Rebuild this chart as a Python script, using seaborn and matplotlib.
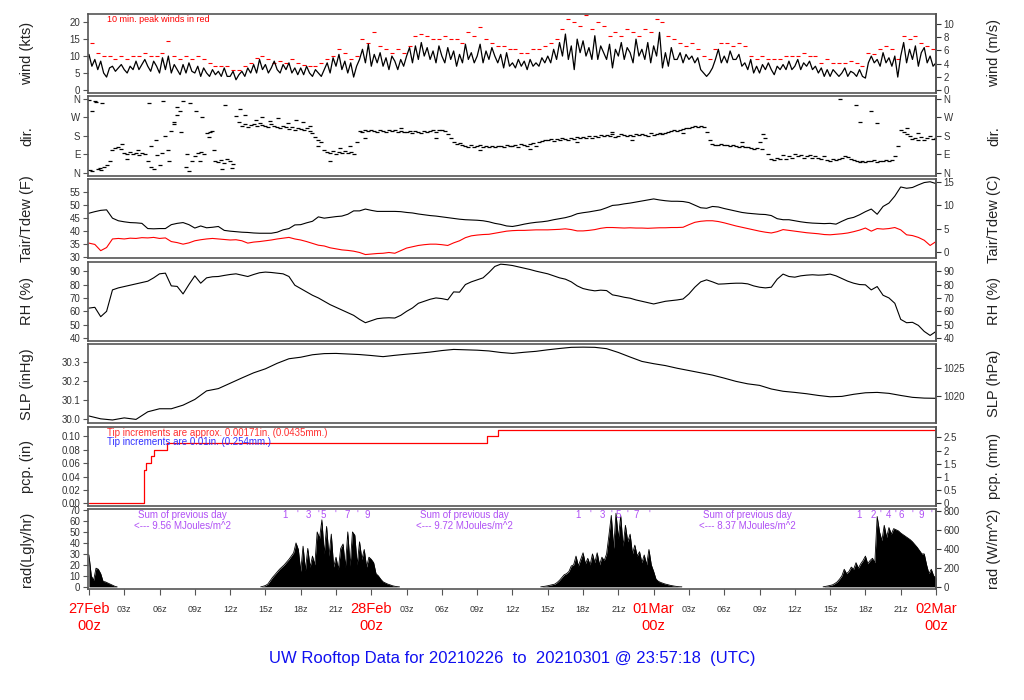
import numpy as np
import matplotlib
matplotlib.use("Agg")
import matplotlib.pyplot as plt
import matplotlib.transforms as mtransforms
import seaborn as sns

sns.set_style("ticks")
plt.rcParams['font.family'] = ['Liberation Sans', 'DejaVu Sans']

# ---------------- data (hours since 27Feb 00z) ----------------
# wind speed (kts), every 15 min
wind_kts = [
    10.5, 7.0, 9.0, 6.0,  8.5, 5.0, 3.8, 6.5,  7.0, 5.5, 6.5, 7.5,  6.0, 5.0, 7.0, 6.0,
    8.5, 6.0, 7.5, 9.0,  7.0, 5.5, 8.5, 7.0,  5.0, 9.5, 6.0, 10.0,  5.0, 7.5, 6.0, 4.5,
    7.5, 5.0, 8.0, 5.5,  5.0, 7.0, 4.0, 6.5,  5.0, 4.0, 6.0, 4.5,  5.5, 4.0, 6.5, 4.0,
    4.0, 5.5, 3.0, 4.5,  5.5, 4.0, 6.5, 5.0,  7.5, 5.0, 9.0, 6.0,  7.5, 5.0, 6.5, 8.5,
    6.0, 5.0, 7.5, 6.0,  8.0, 5.0, 6.5, 4.5,  6.5, 4.5, 7.0, 5.0,  4.0, 6.0, 5.0, 4.0,
    6.0, 8.0, 5.0, 9.5,  7.0, 10.5, 6.0, 8.5,  5.0, 8.0, 3.8, 7.0,  9.0, 12.0, 8.0, 13.5,
    7.0, 10.5, 8.0, 11.0,  7.0, 9.5, 6.0, 10.0,  8.5, 6.0, 9.0, 7.0,  10.0, 12.5, 8.0, 13.0,
    9.0, 14.0, 10.0, 12.5,  9.0, 11.5, 8.0, 13.0,  10.0, 8.0, 12.5, 9.0,  11.5, 7.0, 10.5, 8.0,
    13.5, 9.0, 11.0, 8.0,  10.0, 13.5, 8.0, 11.5,  9.0, 12.5, 10.0, 8.0,  10.5, 6.5, 11.0, 7.0,
    8.0, 6.5, 9.0, 7.0,  8.5, 6.0, 9.0, 7.0,  8.0, 7.0, 9.5, 8.0,  10.0, 8.0, 12.0, 9.0,
    14.0, 10.0, 16.5, 9.0,  13.0, 6.0, 15.0, 11.0,  14.5, 10.0, 12.5, 9.0,  16.0, 9.0, 13.0, 11.0,
    9.0, 13.5, 6.5, 12.0,  10.0, 14.0, 9.0, 12.5,  11.0, 8.0, 15.0, 10.0,  12.0, 9.0, 14.0, 8.0,
    13.0, 10.0, 17.0, 6.5,  11.0, 7.0, 12.5, 9.0,  9.0, 11.0, 8.0, 10.5,  9.0, 10.0, 8.0, 9.5,
    6.0, 5.0, 4.0, 5.0,  6.5, 9.0, 12.0, 8.0,  10.0, 8.0, 11.5, 9.0,  9.0, 10.5, 7.0, 8.0,
    6.0, 9.0, 5.0, 7.0,  5.0, 7.5, 6.0, 8.0,  6.0, 4.5, 7.0, 6.0,  7.5, 6.0, 8.5, 6.0,
    7.0, 9.0, 6.0, 8.0,  7.0, 8.5, 6.0, 7.0,  5.0, 6.5, 4.0, 6.0,  4.0, 6.0, 5.0, 4.0,
    5.0, 6.5, 4.0, 5.5,  5.0, 4.0, 6.0, 4.0,  3.5, 8.0, 10.0, 8.0,  9.0, 7.0, 11.0, 8.0,
    9.5, 7.0, 10.0, 3.8,  10.0, 14.0, 8.0, 12.0,  9.0, 13.0, 7.0, 11.0,  12.5, 8.0, 10.0, 7.0,
    8.0]
# 10-min peak winds (kts), every 30 min
gust_kts = [
    14, 11, 10, 10, 9, 10, 9, 10, 10, 11, 10, 10, 11, 14.5, 10, 9, 10, 9, 10, 9,
    8, 7, 7, 7, 6, 6, 7, 8, 9.5, 10, 9, 8, 8.5, 8, 9, 8, 7.5, 7, 7, 8,
    9, 10, 12, 11, 9, 10, 15, 14, 17, 13, 12, 11, 12, 11, 13, 16, 16.5, 16, 15, 15,
    16, 15, 15, 14, 17, 16, 18.5, 15, 14, 13, 13, 12, 12, 11, 11, 12, 12, 13, 14, 15,
    18, 21, 20, 19, 22, 18, 20, 19, 16, 17, 16, 18, 17, 16, 18, 17, 21, 20, 16, 15,
    14, 13, 14, 12, 10, 9, 12, 14, 14, 13, 14, 13, 10, 9, 10, 9, 9, 9, 10, 10,
    10, 11, 10, 10, 8, 9, 8, 8, 8, 8.5, 8, 7, 11, 10.5, 12, 13, 12, 9, 16, 15,
    16, 14, 13, 12]
# wind direction (deg), every 15 min
wind_dir = [
    355, 10, 350, 20,  15, 30, 40, 60,  110, 120, 125, 115,  95, 90, 100, 92,
    95, 88, 98, 90,  60, 130, 20, 85,  40, 95, 180, 110,  205, 250, 280, 300,
    350, 30, 10, 60,  80, 95, 100, 90,  195, 200, 205, 60,  55, 65, 50, 70,
    60, 45, 275, 250,  230, 240, 225, 235,  240, 230, 245, 235,  230, 225, 240, 230,
    225, 220, 230, 225,  215, 225, 210, 220,  215, 210, 220, 205,  195, 175, 160, 150,
    110, 100, 95, 105,  90, 100, 95, 105,  95, 100, 90, 150,  205, 200, 210, 205,
    210, 205, 200, 208,  205, 200, 210, 205,  210, 200, 205, 198,  200, 205, 195, 205,
    200, 195, 205, 200,  205, 210, 200, 208,  210, 205, 190, 170,  150, 140, 145, 135,
    130, 125, 135, 128,  130, 135, 125, 130,  125, 130, 128, 132,  130, 125, 135, 130,
    130, 135, 128, 140,  135, 130, 140, 145,  130, 150, 155, 160,  160, 165, 155, 165,
    160, 170, 165, 160,  170, 165, 175, 168,  175, 170, 180, 172,  180, 175, 185, 178,
    185, 180, 190, 175,  180, 190, 185, 178,  185, 180, 190, 185,  190, 185, 180, 195,
    185, 190, 195, 188,  195, 200, 205, 210,  205, 210, 215, 220,  220, 225, 228, 225,
    230, 225, 200, 160,  140, 138, 135, 140,  135, 138, 132, 135,  130, 128, 132, 125,
    125, 120, 118, 122,  150, 115, 170, 90,  70, 65, 75, 70,  85, 70, 80, 72,
    90, 80, 85, 75,  80, 85, 75, 80,  75, 70, 80, 65,  60, 70, 65, 68,
    75, 80, 78, 70,  65, 60, 55, 60,  55, 60, 58, 62,  55, 60, 58, 65,
    60, 65, 80, 130,  210, 200, 190, 180,  165, 170, 160, 175,  160, 170, 180, 165,
    170]
dir_extra_t = [0.1, 0.6, 0.9, 1.1, 0.3, 2.8, 3.2, 4.2, 5.1, 5.3, 5.7, 6.3, 6.8, 7.2, 7.5, 7.8,
               8.3, 8.6, 9.1, 9.4, 9.6, 10.2, 10.6, 11.3, 11.6, 12.2, 12.8, 13.3, 14.2, 14.7,
               15.4, 16.1, 16.9, 17.6, 18.2, 18.8, 19.5, 20.5, 21.3, 22.2, 23.5, 26.5, 29.5,
               33.2, 37.5, 41.5, 44.5, 46.2, 50.5, 55.5, 57.3, 63.8, 65.2, 65.5, 66.5, 67.0,
               69.5, 70.5]
dir_extra_v = [15, 345, 25, 340, 300, 140, 70, 110, 340, 30, 160, 350, 60, 240, 320, 200,
               90, 340, 300, 60, 270, 175, 110, 20, 330, 25, 310, 280, 260, 270,
               255, 265, 245, 260, 250, 230, 130, 60, 120, 130, 170, 220, 170,
               110, 115, 150, 200, 160, 195, 150, 190, 360, 330, 250, 300, 245,
               220, 195]
# air temperature / dew point (F), RH (%), every 30 min
tair_f = [
    46.9, 47.5, 48.0, 48.2, 45.0, 44.0, 43.6, 43.3, 43.2, 43.0,
    41.0, 40.9, 41.0, 41.0, 42.5, 43.0, 43.3, 42.5, 41.2, 42.0,
    41.3, 41.5, 41.8, 40.3, 40.0, 39.8, 39.6, 39.5, 39.3, 39.2,
    39.2, 39.2, 39.6, 40.5, 41.0, 42.4, 42.5, 43.2, 43.8, 45.5,
    45.0, 45.3, 45.6, 45.8, 46.5, 47.8, 47.8, 48.5, 48.0, 47.6,
    47.6, 47.6, 47.6, 47.5, 47.2, 47.0, 46.6, 46.3, 46.0, 45.8,
    45.5, 45.2, 44.9, 44.6, 44.4, 44.3, 44.2, 44.0, 43.6, 43.0,
    42.6, 42.0, 41.8, 42.2, 42.7, 43.1, 43.4, 43.6, 43.9, 44.4,
    44.8, 45.2, 45.8, 46.7, 47.1, 47.4, 47.8, 48.2, 49.0, 49.9,
    50.1, 50.5, 50.8, 51.2, 51.6, 52.0, 52.4, 52.0, 51.7, 51.5,
    51.5, 51.4, 51.0, 50.0, 49.0, 48.8, 49.5, 49.3, 48.7, 48.2,
    47.7, 47.2, 46.9, 46.7, 46.5, 46.4, 46.0, 44.8, 44.4, 44.4,
    44.0, 43.6, 43.3, 43.1, 43.0, 42.9, 43.0, 42.7, 43.8, 44.8,
    45.3, 46.3, 47.5, 48.5, 46.5, 49.5, 50.8, 53.5, 57.0, 56.5,
    56.8, 57.8, 58.7, 59.0, 58.3]
tdew_f = [
    35.4, 34.9, 32.5, 33.7, 37.0, 37.2, 37.0, 37.3, 37.2, 37.5,
    37.4, 37.6, 37.2, 37.4, 36.0, 35.6, 35.0, 35.5, 36.3, 36.7,
    37.0, 37.2, 37.0, 36.8, 36.6, 36.7, 36.3, 35.4, 35.8, 36.0,
    36.3, 36.6, 37.0, 37.3, 37.6, 37.0, 36.6, 36.0, 35.3, 34.6,
    34.3, 33.6, 33.2, 32.8, 32.6, 32.3, 31.8, 31.0, 31.2, 31.4,
    31.5, 31.8, 31.5, 32.5, 33.5, 34.0, 34.5, 34.8, 35.0, 35.0,
    34.8, 34.5, 35.5, 36.3, 37.5, 38.2, 38.5, 38.7, 38.8, 39.2,
    39.6, 40.0, 40.2, 40.3, 40.3, 40.4, 40.5, 40.5, 40.5, 40.6,
    40.7, 40.9, 40.6, 40.1, 40.1, 40.3, 40.6, 41.1, 41.4, 41.4,
    41.3, 41.2, 41.3, 41.2, 41.2, 41.1, 41.2, 41.3, 41.3, 41.4,
    41.4, 41.5, 42.5, 43.4, 43.8, 44.0, 44.0, 43.7, 43.2, 42.6,
    42.0, 41.5, 41.0, 40.5, 40.0, 39.6, 39.3, 39.8, 40.6, 40.3,
    40.0, 39.7, 39.4, 39.2, 39.0, 38.7, 38.6, 38.8, 39.0, 39.3,
    39.8, 40.4, 41.2, 40.0, 41.0, 40.8, 41.0, 41.4, 40.5, 38.6,
    38.3, 37.6, 36.5, 34.5, 36.0]
rh_pct = [
    62.4, 63.0, 56.0, 60.0, 76.0, 77.5, 78.5, 79.5, 80.5, 81.5,
    82.5, 85.0, 88.0, 88.5, 79.0, 78.6, 73.0, 80.0, 86.5, 81.0,
    85.0, 85.8, 86.0, 86.8, 87.5, 88.0, 87.0, 86.0, 87.5, 88.8,
    89.3, 89.0, 88.5, 88.0, 86.0, 79.5, 77.0, 74.5, 72.0, 70.0,
    67.5, 65.0, 63.0, 61.0, 59.0, 57.0, 54.0, 51.5, 53.0, 54.5,
    55.0, 55.2, 55.0, 57.0, 60.0, 62.5, 66.0, 67.5, 69.0, 70.0,
    69.5, 68.6, 74.5, 74.3, 80.0, 82.0, 83.5, 85.0, 89.0, 93.5,
    95.2, 94.8, 94.2, 93.2, 92.2, 91.2, 90.0, 89.0, 88.0, 86.5,
    85.0, 84.0, 82.0, 79.0, 77.0, 76.0, 75.3, 75.8, 75.5, 72.3,
    71.5, 70.5, 69.8, 68.5, 67.5, 66.5, 65.5, 66.5, 67.5, 68.0,
    68.5, 69.2, 73.0, 78.0, 82.0, 83.5, 82.0, 80.3, 80.5, 80.8,
    81.0, 81.0, 80.5, 79.0, 78.0, 77.5, 78.0, 84.0, 87.8, 86.0,
    85.5, 86.5, 87.0, 87.3, 87.0, 87.2, 87.8, 86.5, 84.5, 82.5,
    81.0, 80.0, 79.8, 76.0, 78.5, 72.0, 70.0, 66.0, 54.0, 51.5,
    51.8, 49.5, 45.0, 42.0, 45.0]
# sea level pressure (inHg), hourly
slp_inhg = [
    30.018, 30.003, 29.997, 30.008, 30.000, 30.040, 30.056, 30.056, 30.075, 30.105,
    30.150, 30.162, 30.190, 30.218, 30.245, 30.266, 30.295, 30.319, 30.327, 30.340,
    30.346, 30.347, 30.344, 30.341, 30.336, 30.330, 30.337, 30.343, 30.348, 30.354,
    30.362, 30.368, 30.366, 30.364, 30.360, 30.352, 30.347, 30.353, 30.358, 30.366,
    30.373, 30.379, 30.380, 30.379, 30.372, 30.352, 30.328, 30.305, 30.293, 30.283,
    30.269, 30.257, 30.245, 30.233, 30.217, 30.200, 30.187, 30.179, 30.160, 30.148,
    30.142, 30.135, 30.126, 30.119, 30.121, 30.132, 30.140, 30.142, 30.137, 30.126,
    30.116, 30.112, 30.111]
# accumulated precipitation (in) at tip times
pcp_t = [0.0, 4.68, 4.85, 5.27, 5.55, 6.60, 33.86, 34.74, 72.0]
pcp_in = [0.00, 0.05, 0.06, 0.07, 0.08, 0.09, 0.10, 0.11, 0.11]
# solar radiation (Lgly/hr), every 12 min, per daylight period
rad_start = [0.0, 14.6, 38.4, 62.4]
rad_vals = [
    [29, 10, 6, 17, 16, 12, 5, 4.5, 3.5, 2.5, 1.5, 0.5, 0],
    [0, 0.5, 1.2, 2.5, 5.5, 8.5, 11, 13.5, 16, 18, 20, 22.5, 25, 28, 31, 40, 34, 14, 37, 15,
     35, 18, 28, 20, 50, 44, 61, 30, 55, 28, 48, 18, 27, 16, 35, 39, 18, 50, 19, 50,
     47, 20, 41, 25, 34, 18, 27, 25, 22, 12, 10, 7, 4.6, 3.5, 2.5, 1.8, 1.0, 0.5, 0.2, 0],
    [0, 0.3, 0.6, 1.0, 1.5, 2.0, 2.5, 4, 6, 8.5, 11, 12, 14, 19, 20, 28, 19, 25, 31, 21,
     26, 20, 30, 22, 31, 20, 27, 24, 30, 47, 65, 35, 67, 44, 65, 37, 56, 41, 48, 30,
     38, 28, 32, 22, 29, 20, 34, 20, 14, 7, 5, 4, 3.2, 2.5, 2, 1.4, 1.0, 0.6, 0.3, 0.1, 0],
    [0, 0.4, 0.8, 1.3, 1.8, 3, 4.5, 7, 10, 16, 12, 14, 18, 16, 22, 17, 21, 24, 28, 21,
     24, 26, 22, 64, 50, 42, 56, 45, 54, 48, 53, 52, 51, 49, 47.5, 46, 44.5, 43, 41, 38.5,
     36, 33, 30, 30, 20, 12, 16, 10, 8]]
rad_mark_t = [16.66, 17.68, 18.62, 19.47, 19.89, 20.91, 21.93, 22.78, 23.63,
              41.57, 42.59, 43.61, 44.37, 44.97, 45.73, 46.50, 47.60,
              65.45, 66.64, 67.24, 67.92, 68.51, 69.02, 69.96, 70.73, 71.57]
rad_mark_s = ['1', "'", '3', "'", '5', "'", '7', "'", '9',
              '1', "'", '3', "'", '5', "'", '7', "'",
              '1', '2', "'", '4', "'", '6', "'", '9', "'"]
day_sum_t = [7.95, 31.9, 56.0]
day_sum_txt = ['9.56', '9.72', '8.37']
day_lab_t = [0, 24, 48, 72]
day_lab = ['27Feb', '28Feb', '01Mar', '02Mar']

# ---------------- figure ----------------
W_PX, H_PX = 1024, 700
fig = plt.figure(figsize=(10.24, 7.0), dpi=100)
x0, x1 = 88, 936
top0, pitch, ph = 13.7, 82.6, 79.3
axes = []
for i in range(7):
    top = top0 + pitch * i
    axes.append(fig.add_axes([x0 / W_PX, 1 - (top + ph) / H_PX, (x1 - x0) / W_PX, ph / H_PX]))

FRAME = '#555555'
TCOL = '#333333'
PURPLE = '#B050F5'


def style(ax, ylim, ticks, labels=None):
    ax.set_xlim(-0.08, 72.0)
    ax.set_ylim(*ylim)
    ax.set_yticks(ticks)
    if labels is not None:
        ax.set_yticklabels(labels)
    ax.set_xlabel('')
    ax.set_ylabel('')
    ax.grid(False)
    for s in ax.spines.values():
        s.set_visible(True)
        s.set_color(FRAME)
        s.set_linewidth(1.2)
    ax.tick_params(axis='y', direction='out', length=3.5, width=0.8,
                   labelsize=7, colors=TCOL, pad=2)
    ax.tick_params(axis='y', color=FRAME)


def right(ax, fwd, inv, ticks, labels=None):
    sec = ax.secondary_yaxis('right', functions=(fwd, inv))
    sec.set_yticks(ticks)
    if labels is not None:
        sec.set_yticklabels(labels)
    sec.tick_params(direction='out', length=3.5, width=0.8, labelsize=7,
                    colors=TCOL, pad=2)
    for s in sec.spines.values():
        s.set_color(FRAME)
        s.set_linewidth(1.2)
    return sec


def ident(v):
    return v


left_labels = ['wind (kts)', 'dir.', 'Tair/Tdew (F)', 'RH (%)', 'SLP (inHg)', 'pcp. (in)', 'rad(Lgly/hr)']
right_labels = ['wind (m/s)', 'dir.', 'Tair/Tdew (C)', 'RH (%)', 'SLP (hPa)', 'pcp. (mm)', 'rad (W/m^2)']

# 1 wind
ax = axes[0]
tw = 0.25 * np.arange(len(wind_kts))
sns.lineplot(x=tw, y=wind_kts, ax=ax, color='black', linewidth=0.9, estimator=None)
tg = 0.25 + 0.5 * np.arange(len(gust_kts))
sns.scatterplot(x=tg, y=gust_kts, ax=ax, color='red', marker='_', s=8, linewidth=0.8)
style(ax, (-0.9, 22.5), [0, 5, 10, 15, 20])
right(ax, lambda k: k / 1.9438, lambda m: m * 1.9438, [0, 2, 4, 6, 8, 10])
ax.text(1.53, 20.7, '10 min. peak winds in red', color='red', fontsize=6.5, va='center', ha='left')

# 2 direction
ax = axes[1]
td = 0.25 * np.arange(len(wind_dir))
sns.scatterplot(x=td, y=wind_dir, ax=ax, color='black', marker='_', s=9, linewidth=0.9)
sns.scatterplot(x=dir_extra_t, y=dir_extra_v, ax=ax, color='black', marker='_', s=9, linewidth=0.9)
style(ax, (-13, 373), [0, 90, 180, 270, 360], ['N', 'E', 'S', 'W', 'N'])
right(ax, ident, ident, [0, 90, 180, 270, 360], ['N', 'E', 'S', 'W', 'N'])

# 3 temperature / dew point
ax = axes[2]
th = 0.5 * np.arange(len(tair_f))
sns.lineplot(x=th, y=tair_f, ax=ax, color='black', linewidth=0.8, estimator=None)
sns.lineplot(x=0.5 * np.arange(len(tdew_f)), y=tdew_f, ax=ax, color='red', linewidth=0.8, estimator=None)
style(ax, (29.6, 60.1), [30, 35, 40, 45, 50, 55])
right(ax, lambda f: (f - 32) * 5 / 9, lambda c: c * 9 / 5 + 32, [0, 5, 10, 15])

# 4 RH
ax = axes[3]
sns.lineplot(x=0.5 * np.arange(len(rh_pct)), y=rh_pct, ax=ax, color='black', linewidth=0.8, estimator=None)
style(ax, (38, 97.2), [40, 50, 60, 70, 80, 90])
right(ax, ident, ident, [40, 50, 60, 70, 80, 90])

# 5 SLP
ax = axes[4]
sns.lineplot(x=np.arange(len(slp_inhg)), y=slp_inhg, ax=ax, color='black', linewidth=0.8, estimator=None)
style(ax, (29.979, 30.396), [30.0, 30.1, 30.2, 30.3], ['30.0', '30.1', '30.2', '30.3'])
right(ax, lambda p: p * 33.8639, lambda h: h / 33.8639, [1020, 1025])

# 6 precipitation
ax = axes[5]
sns.lineplot(x=pcp_t, y=pcp_in, ax=ax, color='red', linewidth=0.9, drawstyle='steps-post', estimator=None)
style(ax, (-0.004, 0.1143), [0, 0.02, 0.04, 0.06, 0.08, 0.10],
      ['0.00', '0.02', '0.04', '0.06', '0.08', '0.10'])
right(ax, lambda i: i * 25.4, lambda m: m / 25.4, [0, 0.5, 1, 1.5, 2, 2.5],
      ['0', '0.5', '1', '1.5', '2', '2.5'])
ax.text(1.53, 0.105, 'Tip increments are approx. 0.00171in. (0.0435mm.)', color='#FF3030',
        fontsize=7, va='center', ha='left')
ax.text(1.53, 0.0915, 'Tip increments are 0.01in. (0.254mm.)', color='#3030FF',
        fontsize=7, va='center', ha='left')

# 7 radiation
ax = axes[6]
for t0, vals in zip(rad_start, rad_vals):
    tr = t0 + 0.2 * np.arange(len(vals))
    ax.fill_between(tr, 0, vals, color='black', linewidth=0)
    sns.lineplot(x=tr, y=vals, ax=ax, color='black', linewidth=0.6, estimator=None)
style(ax, (-1.6, 70.6), [0, 10, 20, 30, 40, 50, 60, 70])
right(ax, lambda l: l * 11.622, lambda w: w / 11.622, [0, 200, 400, 600, 800])
for t, s in zip(rad_mark_t, rad_mark_s):
    ax.text(t, 65.4, s, color=PURPLE, fontsize=7, ha='center', va='center')
for t, s in zip(day_sum_t, day_sum_txt):
    ax.text(t, 65.4, 'Sum of previous day', color=PURPLE, fontsize=7, ha='center', va='center')
    ax.text(t, 55.6, '<--- ' + s + ' MJoules/m^2', color=PURPLE, fontsize=7, ha='center', va='center')

for a in axes[:6]:
    a.set_xticks([])
xt = list(range(0, 73, 3))
ax.set_xticks(xt)
ax.set_xticklabels(['' if h % 24 == 0 else '%02dz' % (h % 24) for h in xt])
ax.tick_params(axis='x', direction='out', length=4, width=0.8, labelsize=6.5,
               colors=TCOL, pad=8)
ax.tick_params(axis='x', color=FRAME)
trans = mtransforms.blended_transform_factory(ax.transData, fig.transFigure)
for t, s in zip(day_lab_t, day_lab):
    ax.text(t, 1 - 609 / H_PX, s, color='red', fontsize=10.5, ha='center', va='center', transform=trans)
    ax.text(t, 1 - 626 / H_PX, '00z', color='red', fontsize=10.5, ha='center', va='center', transform=trans)

# axis titles
for i in range(7):
    yc = 1 - (top0 + pitch * i + ph / 2) / H_PX
    fig.text(27 / W_PX, yc, left_labels[i], rotation=90, ha='center', va='center', fontsize=10.5, color='#222222')
    fig.text(994 / W_PX, yc, right_labels[i], rotation=90, ha='center', va='center', fontsize=10.5, color='#222222')

fig.text(512 / W_PX, 1 - 659 / H_PX, 'UW Rooftop Data for 20210226  to  20210301 @ 23:57:18  (UTC)',
         color='#1010F0', fontsize=12, ha='center', va='center')

fig.savefig('out.png', dpi=100)
